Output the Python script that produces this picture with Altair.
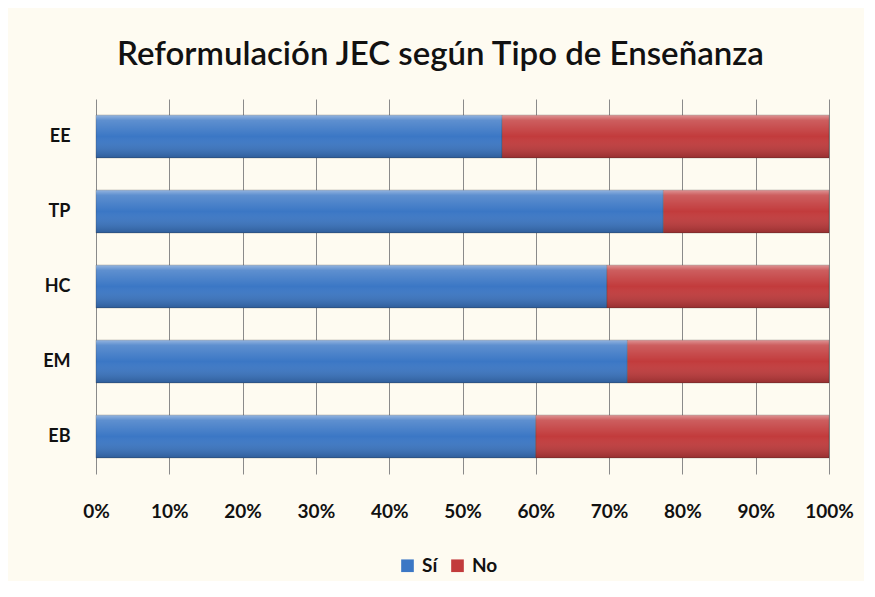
import altair as alt
import pandas as pd

categories = ["EE", "TP", "HC", "EM", "EB"]
si_values = [55.4, 77.4, 69.7, 72.5, 60.0]
no_values = [44.6, 22.6, 30.3, 27.5, 40.0]
series = ["Sí", "No"]
colors = ["#3B77C5", "#C23B3C"]

rows = []
for c, s, n in zip(categories, si_values, no_values):
    tot = s + n
    rows.append({"tipo": c, "serie": "Sí", "start": 0.0, "end": s / tot, "orden": 0})
    rows.append({"tipo": c, "serie": "No", "start": s / tot, "end": 1.0, "orden": 1})
df = pd.DataFrame(rows)

FONT = "Lato"

y_enc = alt.Y("tipo:N", sort=categories, title=None,
              scale=alt.Scale(paddingInner=0.43, paddingOuter=0.215),
              axis=alt.Axis(domain=False, ticks=False, grid=False, labelPadding=26,
                            labelFontSize=18, labelFontWeight="bold", labelColor="#111111",
                            labelFont=FONT, minExtent=60, maxExtent=60))
x_enc = alt.X("start:Q", title=None, scale=alt.Scale(domain=[0, 1], nice=False),
              axis=alt.Axis(format="%", values=[i / 10 for i in range(11)], domain=False,
                            ticks=False, grid=True, gridColor="#8a8a8a", gridWidth=1,
                            labelPadding=28, labelFontSize=19, labelFontWeight="bold",
                            labelColor="#111111", labelFont=FONT, labelFlush=False))

base = alt.Chart(df)

bars = base.mark_bar(stroke="#2a2a2a", strokeOpacity=0.35, strokeWidth=0.8).encode(
    y=y_enc,
    x=x_enc,
    x2="end:Q",
    color=alt.Color("serie:N", sort=series, title=None,
                    scale=alt.Scale(domain=series, range=colors),
                    legend=alt.Legend(orient="none", legendX=302, legendY=457,
                                      direction="horizontal", symbolType="square",
                                      symbolSize=160, symbolStrokeWidth=0,
                                      labelFontSize=19, labelFontWeight="bold",
                                      labelFont=FONT, labelColor="#111111",
                                      columnPadding=10, labelOffset=5)),
    order=alt.Order("orden:Q"),
)

shine = base.mark_bar(
    color=alt.Gradient(
        gradient="linear", x1=0, x2=0, y1=0, y2=1,
        stops=[
            alt.GradientStop(offset=0.0, color="rgba(255,255,255,0.45)"),
            alt.GradientStop(offset=0.12, color="rgba(255,255,255,0.18)"),
            alt.GradientStop(offset=0.5, color="rgba(255,255,255,0.0)"),
            alt.GradientStop(offset=1.0, color="rgba(0,0,0,0.22)"),
        ],
    )
).encode(y=alt.Y("tipo:N", sort=categories), x="start:Q", x2="end:Q")

chart = (
    alt.layer(bars, shine)
    .properties(
        width=733,
        height=375,
        padding={"left": 28, "top": 31, "right": 10, "bottom": 5},
        background="#FEFBF1",
        title=alt.TitleParams(
            "Reformulación JEC según Tipo de Enseñanza",
            fontSize=33, font=FONT, fontWeight=600, color="#111111",
            anchor="middle", offset=27, dx=-22,
        ),
    )
    .configure_view(stroke=None)
)

chart.save("out.html", embed_options={"renderer": "svg", "actions": False})
